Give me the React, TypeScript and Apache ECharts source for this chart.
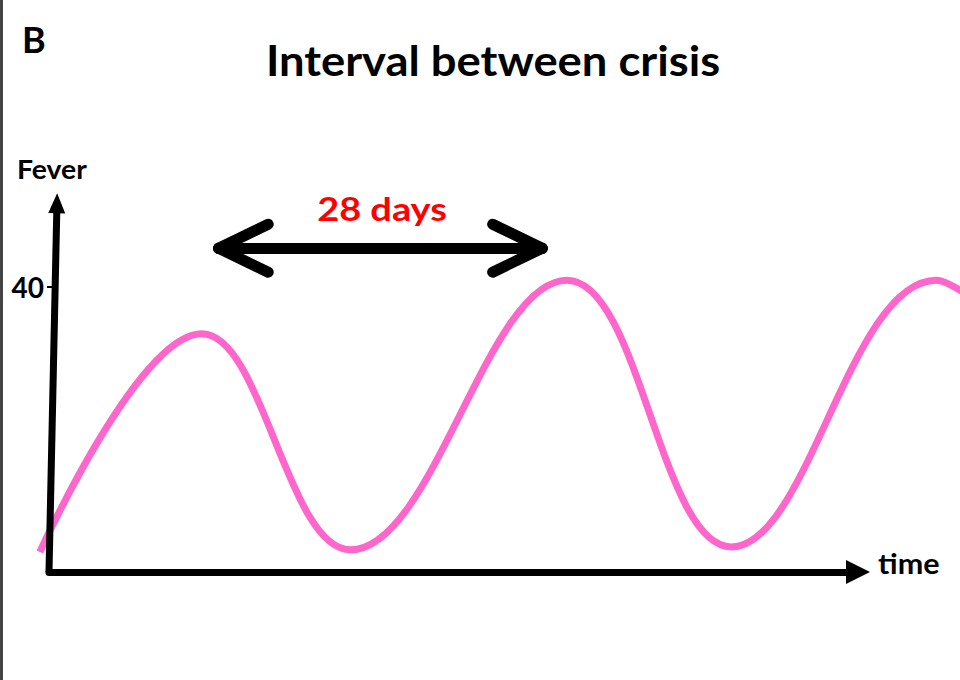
import React, { useEffect, useRef } from "react";
import * as echarts from "echarts";

// Fever curve (x in days, y in °C): start, peaks, troughs, end
const days = [-0.7, 11.7, 23.1, 39.7, 52.3, 68.0, 71.0];
const fever = [35.35, 39.18, 35.39, 40.12, 35.44, 40.12, 39.77];

// Axes
const xRange = [0, 62];
const yRange = [35, 42];
const feverTicks = [40];
const yAxisFoot = [0, 35];
const yAxisHead = [0.61, 41.47];

// "28 days" span arrow (data coordinates)
const spanDays = [13.0, 37.8];
const spanLevel = 40.68;
const headBack = [16.8, 34.0];
const headSpread = [41.1, 40.26];

const FONT = "Lato";
const W = 960;
const GRID = { left: 49, right: 102, top: 173, bottom: 108 };

export default function App() {
  const ref = useRef<HTMLDivElement>(null);

  useEffect(() => {
    const chart = echarts.init(ref.current!, null, { renderer: "svg" });
    const ink = "#000000";
    const seg = (a: number[], b: number[]) => [{ coord: a }, { coord: b }];

    // a second, full-width grid with the same scale so the curve may run past the axis ends
    const pxPerDay = (W - GRID.left - GRID.right) / (xRange[1] - xRange[0]);
    const wideMin = xRange[0] - GRID.left / pxPerDay;
    const wideMax = xRange[1] + GRID.right / pxPerDay;

    const arrowSegs = [
      seg([spanDays[0], spanLevel], [spanDays[1], spanLevel]),
      seg([spanDays[0], spanLevel], [headBack[0], headSpread[0]]),
      seg([spanDays[0], spanLevel], [headBack[0], headSpread[1]]),
      seg([spanDays[1], spanLevel], [headBack[1], headSpread[0]]),
      seg([spanDays[1], spanLevel], [headBack[1], headSpread[1]]),
    ];

    const txt = (text: string, x: number, y: number, size: number, align: string, color = ink, scaleX = 1) => ({
      type: "text",
      x,
      y,
      scaleX,
      silent: true,
      style: {
        text,
        fill: color,
        font: `bold ${size}px ${FONT}`,
        textAlign: align,
        textVerticalAlign: "middle",
        verticalAlign: "middle",
      },
    });

    chart.setOption({
      animation: false,
      backgroundColor: "#ffffff",
      grid: [
        { ...GRID },
        { left: 0, right: 0, top: GRID.top, bottom: GRID.bottom },
      ],
      xAxis: [
        {
          type: "value",
          gridIndex: 0,
          min: xRange[0],
          max: xRange[1],
          axisLabel: { show: false },
          axisTick: { show: false },
          splitLine: { show: false },
          axisLine: {
            show: true,
            lineStyle: { color: ink, width: 7 },
            symbol: ["none", "triangle"],
            symbolSize: [24, 24],
          },
          z: 5,
        },
        {
          type: "value",
          gridIndex: 1,
          min: wideMin,
          max: wideMax,
          show: false,
        },
      ],
      yAxis: [
        {
          type: "value",
          gridIndex: 0,
          min: yRange[0],
          max: yRange[1],
          offset: -4,
          splitLine: { show: false },
          axisLine: { show: false },
          axisTick: { show: true, customValues: feverTicks, length: 6, lineStyle: { color: ink, width: 2 } },
          axisLabel: {
            show: true,
            customValues: feverTicks,
            margin: 9,
            color: ink,
            fontFamily: FONT,
            fontWeight: "bold",
            fontSize: 28,
          },
        },
        {
          type: "value",
          gridIndex: 1,
          min: yRange[0],
          max: yRange[1],
          show: false,
        },
      ],
      series: [
        {
          type: "line",
          xAxisIndex: 1,
          yAxisIndex: 1,
          data: days.map((d, i) => [d, fever[i]]),
          smooth: 0.4,
          symbol: "none",
          clip: false,
          silent: true,
          z: 3,
          lineStyle: { color: "#ff66cc", width: 7 },
        },
        {
          type: "line",
          xAxisIndex: 0,
          yAxisIndex: 0,
          data: [],
          symbol: "none",
          silent: true,
          z: 4,
          markLine: {
            silent: true,
            animation: false,
            label: { show: false },
            lineStyle: { color: ink, width: 7, type: "solid", cap: "butt" },
            data: [
              [
                { coord: yAxisFoot, symbol: "none" },
                { coord: yAxisHead, symbol: "triangle", symbolSize: [17, 20] },
              ],
            ],
          },
        },
        {
          type: "line",
          xAxisIndex: 0,
          yAxisIndex: 0,
          data: [],
          symbol: "none",
          silent: true,
          z: 4,
          markLine: {
            silent: true,
            animation: false,
            symbol: "none",
            label: { show: false },
            lineStyle: { color: ink, width: 11, type: "solid", cap: "round" },
            data: arrowSegs,
          },
        },
      ],
      graphic: [
        { type: "rect", silent: true, shape: { x: 0, y: 0, width: 3, height: 680 }, style: { fill: "#444444" } },
        txt("B", 22, 39, 36, "left"),
        txt("Interval between crisis", 493, 60, 42, "center", ink, 1.08),
        txt("Fever", 17, 169, 27, "left", ink, 1.05),
        txt("28 days", 382, 208, 33, "center", "#ff0000", 1.15),
        txt("time", 878, 563, 28, "left", ink, 1.09),
      ],
    });

    return () => chart.dispose();
  }, []);

  return <div ref={ref} style={{ position: "fixed", left: 0, top: 0, width: 960, height: 680 }} />;
}
